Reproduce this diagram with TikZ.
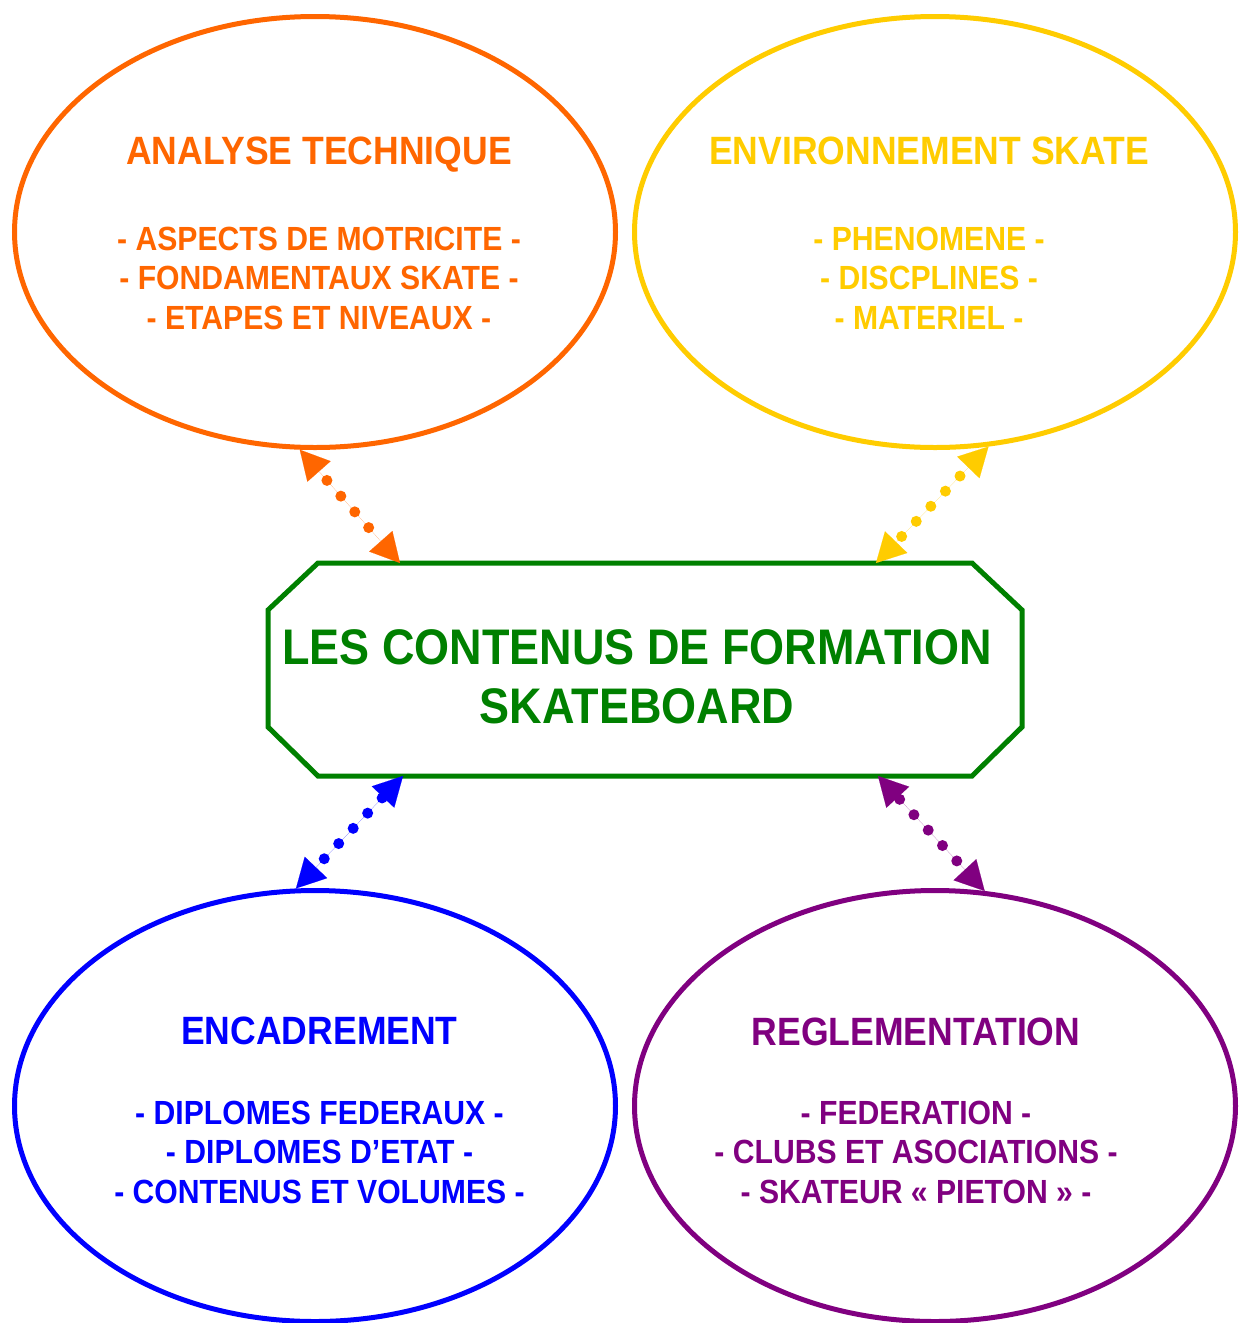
\documentclass[tikz,border=0pt]{standalone}
\usepackage{fontspec}
\setmainfont{Liberation Sans}[FakeStretch=0.9]
\usetikzlibrary{shapes.geometric,arrows.meta}
\definecolor{corange}{HTML}{FF6600}
\definecolor{cyellow}{HTML}{FFCC00}
\definecolor{cgreen}{HTML}{008000}
\definecolor{cblue}{HTML}{0000FF}
\definecolor{cpurple}{HTML}{800080}
\tikzset{
  ell/.style={ellipse, draw, line width=5pt, minimum width=601pt, minimum height=431pt, inner sep=0pt},
  ttl/.style={font=\fontsize{39.5}{40}\selectfont\bfseries, anchor=base, inner sep=0pt},
  sub/.style={font=\fontsize{33.5}{39.5}\selectfont\bfseries, align=center, anchor=base, inner sep=0pt},
  ctr/.style={font=\fontsize{50}{59}\selectfont\bfseries, align=center, anchor=base, inner sep=0pt},
  octo/.style={line width=5pt, line join=miter},
  conn/.style={line width=11pt, line cap=round, dash pattern=on 0pt off 21pt, dash phase=9pt,
    {Triangle[length=29pt,width=31pt,line width=0.1pt]}-{Triangle[length=29pt,width=31pt,line width=0.1pt]}}
}
\begin{document}
\begin{tikzpicture}[x=1pt,y=1pt]
\useasboundingbox (0,0) rectangle (1242,-1323);
\fill[white] (0,0) rectangle (1242,-1323);
% ellipses
\node[ell, draw=corange] (tl) at (315,-232) {};
\node[ell, draw=cyellow] (tr) at (935,-232) {};
\node[ell, draw=cblue] (bl) at (315,-1106) {};
\node[ell, draw=cpurple] (br) at (935,-1106) {};
% texts
\node[ttl, text=corange] (tlt) at (319,-164) {ANALYSE TECHNIQUE};
\node[sub, text=corange] (tls) at (319,-329) {- ASPECTS DE MOTRICITE -\\- FONDAMENTAUX SKATE -\\- ETAPES ET NIVEAUX -};
\node[ttl, text=cyellow] (trt) at (929,-164) {ENVIRONNEMENT SKATE};
\node[sub, text=cyellow] (trs) at (929,-329) {- PHENOMENE -\\- DISCPLINES -\\- MATERIEL -};
\node[ttl, text=cblue] (blt) at (319.5,-1044) {ENCADREMENT};
\node[sub, text=cblue] (bls) at (319.5,-1203) {- DIPLOMES FEDERAUX -\\- DIPLOMES D’ETAT -\\- CONTENUS ET VOLUMES -};
\node[ttl, text=cpurple] (brt) at (916,-1045) {REGLEMENTATION};
\node[sub, text=cpurple] (brs) at (916,-1203) {- FEDERATION -\\- CLUBS ET ASOCIATIONS -\\- SKATEUR « PIETON » -};
% centre octagon
\coordinate (oa) at (318,-563);
\coordinate (ob) at (972,-563);
\coordinate (oc) at (1022,-610);
\coordinate (od) at (1022,-727);
\coordinate (oe) at (972,-776);
\coordinate (of) at (318,-776);
\coordinate (og) at (268,-727);
\coordinate (oh) at (268,-610);
\draw[octo, draw=cgreen] (oa) -- (ob) -- (oc) -- (od) -- (oe) -- (of) -- (og) -- (oh) -- cycle;
\node[ctr, text=cgreen] (octt) at (637,-723) {LES CONTENUS DE FORMATION\\SKATEBOARD};
% connector ends on the octagon
\coordinate (o1) at (400,-563);
\coordinate (o2) at (876,-563);
\coordinate (o3) at (403,-776);
\coordinate (o4) at (878,-776);
% connectors
\draw[conn, draw=corange, fill=corange] (tl.266) -- (o1);
\draw[conn, draw=cyellow, fill=cyellow] (tr.284) -- (o2);
\draw[conn, draw=cblue, fill=cblue] (bl.95) -- (o3);
\draw[conn, draw=cpurple, fill=cpurple] (br.77) -- (o4);
\end{tikzpicture}
\end{document}
